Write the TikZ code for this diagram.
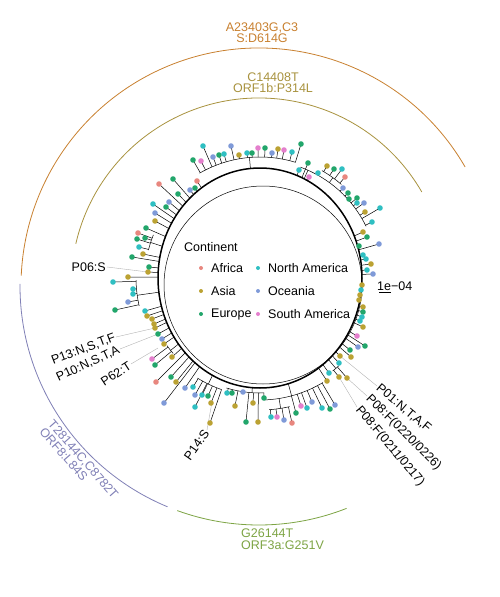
\documentclass[tikz,border=0pt]{standalone}
\usepackage{fontspec}
\setmainfont{Liberation Sans}
\usetikzlibrary{calc}

\definecolor{arcorange}{HTML}{C8802F}
\definecolor{arcolive}{HTML}{A8923E}
\definecolor{arcgreen}{HTML}{7DA444}
\definecolor{arcpurple}{HTML}{8080B6}
\definecolor{africa}{HTML}{E8877F}
\definecolor{asia}{HTML}{BBA233}
\definecolor{europe}{HTML}{22A66B}
\definecolor{namer}{HTML}{2FBFC2}
\definecolor{oceania}{HTML}{7F9AD8}
\definecolor{samer}{HTML}{E47FCD}

\begin{document}
\begin{tikzpicture}[
x=1pt, y=-1pt,
font=\fontsize{12.5}{11.5}\selectfont,
branch/.style={line width=0.5pt},
backbone/.style={line width=1.5pt},
mutarc/.style={line width=0.8pt},
leader/.style={draw=gray!60, line width=0.4pt},
lbl/.style={inner sep=1pt},
mutlbl/.style={inner sep=0pt, align=center}
]

\useasboundingbox (0,0) rectangle (500,597);
\coordinate (T) at (260,278); % tree centre
\coordinate (O) at (259,286); % centre of the mutation arcs

% mutation arcs
\draw[mutarc, arcorange] ($(O)+(30:238pt)$) arc[start angle=30, end angle=177.5, radius=238pt];
\draw[mutarc, arcolive] ($(O)+(30:188pt)$) arc[start angle=30, end angle=167, radius=188pt];
\draw[mutarc, arcpurple] ($(O)+(179.5:239pt)$) arc[start angle=179.5, end angle=247.5, radius=239pt];
\draw[mutarc, arcgreen] ($(O)+(250:239pt)$) arc[start angle=250, end angle=291.5, radius=239pt];

\node[mutlbl, text=arcorange] (lblA23403) at (262,32.5) {A23403G,C3\\S:D614G};
\node[mutlbl, text=arcolive] (lblC14408) at (273,82.5) {C14408T\\ORF1b:P314L};
\node[mutlbl, align=left, text=arcgreen, anchor=west] (lblG26144) at (241,539) {G26144T\\ORF3a:G251V};
\node[mutlbl, align=left, text=arcpurple, rotate=-49] (lblT28144) at (79,463) {T28144C,C8782T\\ORF8:L84S};

% tree
\draw[branch] (263,285) circle[radius=99pt];
\draw[backbone] (T) ellipse[x radius=102pt, y radius=110pt];

% clades: from angle / to angle / radius / stem angle / parent radius (0 = backbone)
\foreach \angA/\angB/\rad/\stem/\from in {73/120/121/95/0, 26/70/118/66/0, 49/60/124/54/118,
  158/166/115/162/0, 181/193/124/188/0, 216/221/115/219/0, 238/251/118/244/0,
  253/272/115/266/0, 272/301/122/285/0, 274/283/132/279/122, 308/312/118/310/0}{
  \pgfmathsetmacro\rstart{\from==0 ? 11220/sqrt((110*cos(\stem))^2+(102*sin(\stem))^2) : \from}
  \draw[branch] ($(T)+(\angA:\rad pt)$) arc[start angle=\angA, end angle=\angB, radius=\rad pt];
  \draw[branch] ($(T)+(\stem:\rstart pt)$) -- ($(T)+(\stem:\rad pt)$);
}

% tips: x / y / continent / attach radius (0 = backbone)
\def\tiplist{193/160/europe/121, 201/161/samer/121, 203/146/namer/121, 213/157/oceania/121,
  219/155/europe/121, 224/154/namer/121, 231/146/oceania/121, 239/155/asia/121,
  247/153/namer/121, 252/153/europe/121, 258/148/samer/121, 265/148/europe/121,
  272/153/oceania/121, 278/149/asia/121, 284/150/samer/121, 292/152/namer/121, 301/144/europe/121,
  299/170/namer/0, 308/163/europe/0, 309/177/samer/0, 318/173/namer/118,
  327/166/asia/124, 334/169/europe/124, 342/169/namer/124, 345/177/africa/124,
  343/188/oceania/118, 348/193/europe/118, 349/199/europe/118, 357/198/europe/118,
  357/203/namer/118, 364/203/oceania/118, 365/212/asia/118, 372/222/namer/118, 380/208/namer/118,
  363/232/asia/0, 367/237/europe/0, 379/244/oceania/0, 359/246/europe/0, 363/255/namer/0,
  366/259/namer/0, 371/264/asia/0, 367/270/namer/0, 373/274/oceania/0, 362/285/asia/0,
  361/290/namer/0, 360/295/asia/0, 359/300/asia/0, 363/307/asia/0, 363/312/europe/0,
  362/317/namer/0, 360/321/namer/0, 363/327/asia/0, 357/336/samer/0,
  358/347/oceania/0, 365/346/europe/0, 350/350/europe/0, 351/357/asia/0, 340/356/asia/0,
  339/363/namer/0, 329/373/namer/0, 327/381/asia/0, 339/377/asia/118, 347/378/asia/118,
  271/417/namer/132, 277/417/samer/132, 284/420/oceania/132, 292/423/africa/132,
  296/413/europe/122, 301/406/samer/122, 307/408/namer/122, 312/402/oceania/122,
  322/408/namer/122, 330/409/europe/122, 335/405/oceania/122,
  227/393/namer/115, 232/393/europe/115, 243/392/oceania/115, 235/406/asia/115,
  246/422/europe/115, 258/422/asia/115, 253/403/asia/115, 264/398/europe/115,
  193/387/namer/118, 195/395/oceania/118, 195/407/namer/118, 202/395/namer/118,
  208/396/europe/118, 211/403/asia/118, 210/423/asia/118,
  152/359/samer/115, 155/365/europe/115, 172/357/asia/0, 156/382/africa/0,
  171/377/europe/0, 176/382/asia/0, 185/388/oceania/0, 164/403/oceania/0,
  145/311/namer/0, 147/316/asia/0, 152/319/asia/0, 154/324/asia/0, 155/328/asia/0,
  158/334/europe/0, 162/339/oceania/0, 164/344/asia/0,
  113/282/namer/124, 133/289/namer/124, 133/294/namer/124, 128/302/oceania/124, 115/310/europe/124,
  128/277/asia/0, 148/272/asia/0, 149/267/europe/0, 143/254/asia/0, 132/257/europe/0,
  139/247/namer/115, 137/239/europe/115, 145/238/europe/115, 138/233/africa/115,
  146/228/europe/0, 155/221/asia/0, 155/213/oceania/0, 166/207/europe/0, 153/204/namer/0,
  169/202/oceania/0, 178/194/europe/0, 159/184/africa/0, 173/179/europe/0,
  190/190/oceania/0, 195/188/europe/0, 197/181/africa/0}

\foreach \x/\y/\col/\rr in \tiplist {
  \pgfmathsetmacro\ang{atan2(278-\y,\x-260)}
  \pgfmathsetmacro\ra{\rr==0 ? 11220/sqrt((110*cos(\ang))^2+(102*sin(\ang))^2) : \rr}
  \draw[branch] ($(T)+(\ang:\ra pt)$) -- (\x,\y);
}

% sample labels
\coordinate (p06) at (148,272);
\coordinate (p13) at (155,328);
\coordinate (p10) at (158,334);
\coordinate (p62) at (158,348);
\coordinate (p14) at (212,402);
\coordinate (p01) at (340,356);
\coordinate (p08a) at (347,378);
\coordinate (p08b) at (339,377);

\node[lbl, anchor=east] (lblP06) at (107,267) {P06:S};
\node[lbl, anchor=east, rotate=21] (lblP13) at (116,337) {P13:N,S,T,F};
\node[lbl, anchor=east, rotate=25] (lblP10) at (120,349) {P10:N,S,T,A};
\node[lbl, anchor=east, rotate=33] (lblP62) at (131,364) {P62:T};
\node[lbl, anchor=east, rotate=55] (lblP14) at (207,430) {P14:S};
\node[lbl, anchor=west, rotate=-40] (lblP01) at (377,386) {P01:N,T,A,F};
\node[lbl, anchor=west, rotate=-45] (lblP08a) at (367,396) {P08:F(0220/0226)};
\node[lbl, anchor=west, rotate=-50] (lblP08b) at (357,407) {P08:F(0211/0217)};

\draw[leader] (lblP06.east) -- (p06);
\draw[leader] (lblP13.east) -- (p13);
\draw[leader] (lblP10.east) -- (p10);
\draw[leader] (lblP62.east) -- (p62);
\draw[leader] (lblP14.east) -- (p14);
\draw[leader] (lblP01.west) -- (p01);
\draw[leader] (lblP08a.west) -- (p08a);
\draw[leader] (lblP08b.west) -- (p08b);

\foreach \x/\y/\col/\rr in \tiplist
  \fill[\col] (\x,\y) circle[radius=2.8pt];

% legend
\node[lbl, inner sep=0pt, anchor=west] (legtitle) at (184,247) {Continent};
\foreach \lx/\ly/\col/\key/\name in {201/268/africa/af/Africa, 201/291/asia/as/Asia,
  201/314/europe/eu/Europe, 258/268/namer/na/North America, 258/291/oceania/oc/Oceania,
  258/314/samer/sa/South America}{
  \fill[\col] (\lx,\ly) circle[radius=2pt];
  \node[inner sep=0pt, anchor=west] (leg\key) at (\lx+10,\ly) {\name};
}

% scale bar
\node[inner sep=0pt, anchor=west] (scale) at (377,286) {1e−04};
\draw[line width=0.5pt] (379,292) -- (391,292);

\end{tikzpicture}
\end{document}
